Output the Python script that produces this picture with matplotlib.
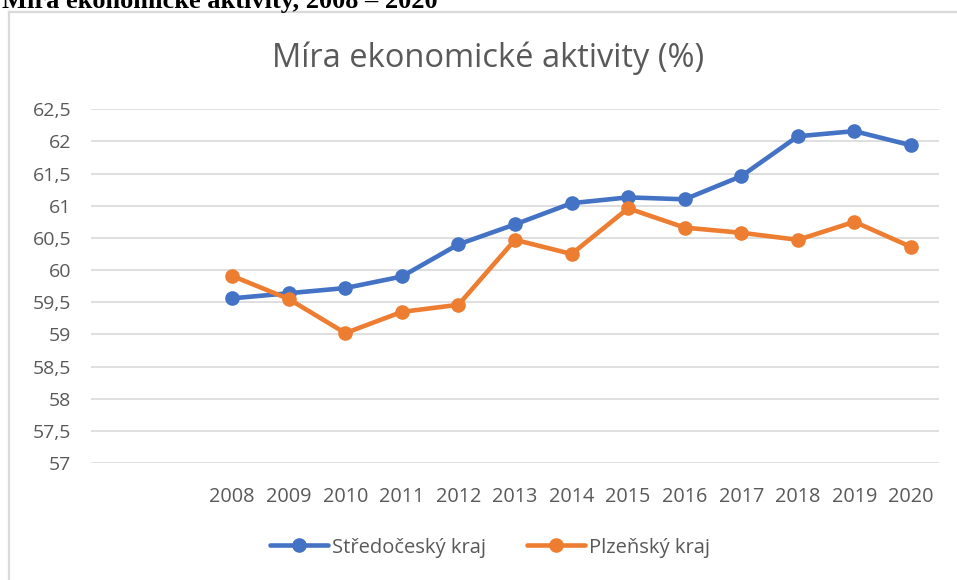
import matplotlib.pyplot as plt
from matplotlib.lines import Line2D
from matplotlib.ticker import FuncFormatter

years = ['2008', '2009', '2010', '2011', '2012', '2013', '2014',
         '2015', '2016', '2017', '2018', '2019', '2020']
stredocesky = [59.56, 59.64, 59.72, 59.90, 60.40, 60.71, 61.04,
               61.13, 61.10, 61.46, 62.08, 62.16, 61.94]
plzensky = [59.91, 59.55, 59.02, 59.35, 59.46, 60.47, 60.25,
            60.96, 60.66, 60.58, 60.47, 60.75, 60.36]
# two empty categories sit in front of 2008 in the source chart
n_empty = 2

gray = '#595959'
plt.rcParams['font.family'] = ['Open Sans', 'DejaVu Sans']

fig = plt.figure(figsize=(9.57, 5.8), dpi=100)
ax = fig.add_axes([0.0948, 0.2017, 0.8867, 0.6099])

x = list(range(n_empty, n_empty + len(years)))
ax.plot(x, stredocesky, color='#4472C4', lw=3.3, marker='o', ms=9.5,
        label='Středočeský kraj', solid_capstyle='round', zorder=3)
ax.plot(x, plzensky, color='#ED7D31', lw=3.3, marker='o', ms=9.5,
        label='Plzeňský kraj', solid_capstyle='round', zorder=3)

ax.set_xlim(-0.5, n_empty + len(years) - 0.5)
ax.set_ylim(57, 62.5)
ax.set_yticks([57 + 0.5 * i for i in range(12)])
ax.yaxis.set_major_formatter(FuncFormatter(lambda v, p: ('%g' % v).replace('.', ',')))
ax.set_xticks(x)
ax.set_xticklabels(years)
ax.tick_params(axis='y', length=0, pad=14, labelsize=14, labelcolor=gray)
ax.tick_params(axis='x', length=0, pad=17, labelsize=14.3, labelcolor=gray)
ax.grid(axis='y', color='#D9D9D9', lw=1.2, zorder=0)
for s in ax.spines.values():
    s.set_visible(False)

fig.text(0.51, 0.9, 'Míra ekonomické aktivity (%)', ha='center', va='center',
         fontsize=23.5, color=gray)

fig.legend(loc='center', bbox_to_anchor=(0.512, 0.056), ncol=2, frameon=False,
           fontsize=14.5, labelcolor=gray, handlelength=2.9, columnspacing=2.0,
           handletextpad=0.2)

# cut-off heading above the chart box
fig.text(0.002, 1 - 8 / 580, 'Míra ekonomické aktivity, 2008 – 2020', ha='left',
         va='baseline', fontsize=19, fontweight='bold', family='Liberation Serif')

# chart box border (top and left edges are visible)
fig.add_artist(Line2D([8.5 / 957, 1], [1 - 11.5 / 580, 1 - 11.5 / 580],
                      color='#D9D9D9', lw=1.6))
fig.add_artist(Line2D([8.5 / 957, 8.5 / 957], [0, 1 - 11.5 / 580],
                      color='#D9D9D9', lw=1.6))

plt.savefig('out.png')
plt.close()
